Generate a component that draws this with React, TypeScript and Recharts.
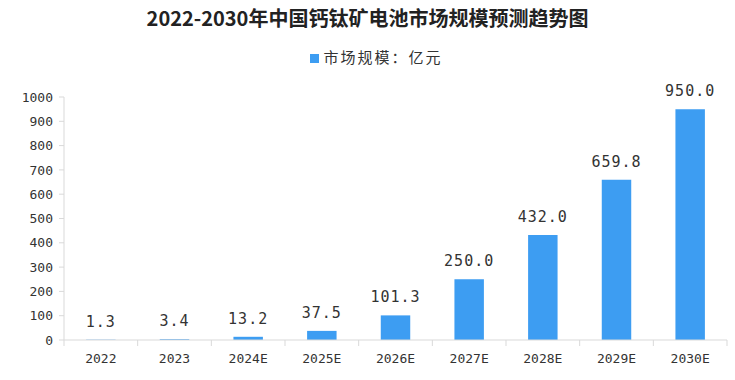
import React from 'react';
import { BarChart, Bar, XAxis, YAxis, Legend, LabelList } from 'recharts';

const years = ['2022', '2023', '2024E', '2025E', '2026E', '2027E', '2028E', '2029E', '2030E'];
const marketSize = [1.3, 3.4, 13.2, 37.5, 101.3, 250.0, 432.0, 659.8, 950.0];
const yTicks = [0, 100, 200, 300, 400, 500, 600, 700, 800, 900, 1000];

const data = years.map((year, i) => ({ year, value: marketSize[i] }));

const W = 735;
const H = 380;
// legend (~21px) and x axis (30px) take their room out of these
const M = { top: 76, right: 8, bottom: 10, left: 0 };
const Y_AXIS_W = 64;
const BAND = (W - M.left - M.right - Y_AXIS_W) / years.length;
const AXIS_COLOR = '#d9d9d9';
const BAR_COLOR = '#3d9df2';
const MONO = '"DejaVu Sans Mono", monospace';

// category label plus a tick mark on the band boundary
const XTick = (props: any) => {
  const { x, y, payload, index } = props;
  const axisY = y - 8;
  return (
    <g>
      <line x1={x - BAND / 2} x2={x - BAND / 2} y1={axisY} y2={axisY + 6} stroke={AXIS_COLOR} />
      {index === years.length - 1 && (
        <line x1={x + BAND / 2} x2={x + BAND / 2} y1={axisY} y2={axisY + 6} stroke={AXIS_COLOR} />
      )}
      <text x={x} y={axisY + 18} dy="0.35em" textAnchor="middle" fill="#333" fontSize={13} fontFamily={MONO}>
        {payload.value}
      </text>
    </g>
  );
};

export default function App() {
  return (
    <div style={{ position: 'absolute', left: 0, top: 0, width: W, height: H, background: '#fff' }}>
      <div
        style={{
          position: 'absolute', top: 3, left: 0, width: W, textAlign: 'center',
          fontFamily: '"Noto Sans CJK SC", sans-serif', fontWeight: 700, fontSize: 20,
          color: '#222', zIndex: 1,
        }}
      >
        2022-2030年中国钙钛矿电池市场规模预测趋势图
      </div>
      <BarChart width={W} height={H} data={data} margin={M} barCategoryGap="70%">
        <Legend
          verticalAlign="top"
          align="center"
          iconType="square"
          iconSize={9}
          wrapperStyle={{ top: 46, left: 18, fontFamily: '"Noto Sans CJK SC", sans-serif', fontSize: 15, letterSpacing: 2 }}
          formatter={(v: string) => <span style={{ color: '#333' }}>{v}</span>}
        />
        <XAxis
          dataKey="year"
          stroke={AXIS_COLOR}
          tickLine={false}
          tick={<XTick />}
          interval={0}
        />
        <YAxis
          width={Y_AXIS_W}
          domain={[0, 1000]}
          ticks={yTicks}
          interval={0}
          stroke={AXIS_COLOR}
          tickSize={5}
          tickMargin={6}
          tick={{ fill: '#333', fontSize: 13, fontFamily: MONO }}
        />
        <Bar dataKey="value" name="市场规模：亿元" fill={BAR_COLOR} isAnimationActive={false}>
          <LabelList
            dataKey="value"
            position="top"
            offset={13}
            formatter={(v: any) => Number(v).toFixed(1)}
            style={{ fill: '#333', fontSize: 15, fontFamily: MONO, letterSpacing: 1 }}
          />
        </Bar>
      </BarChart>
    </div>
  );
}
